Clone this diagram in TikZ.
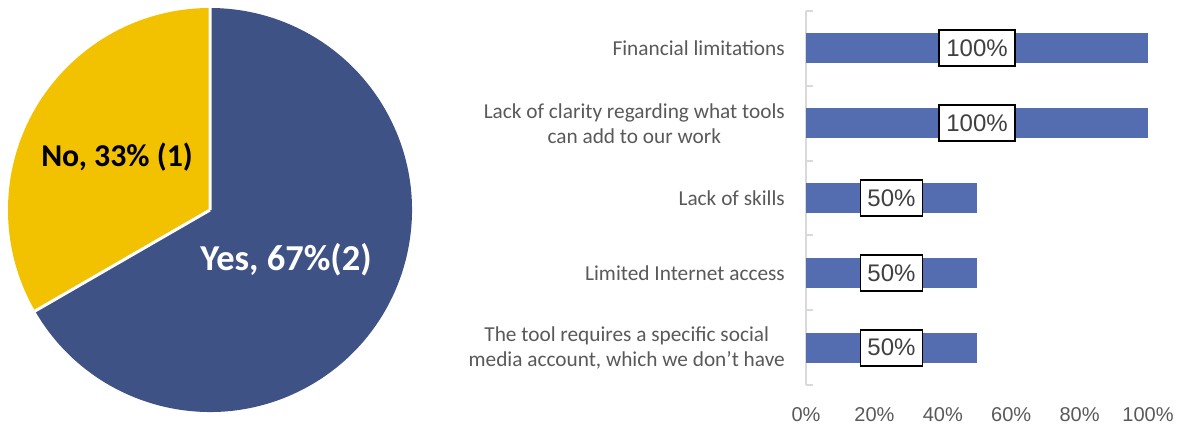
\documentclass[tikz,border=0pt]{standalone}
\usepackage{fontspec}
\setmainfont{Carlito}
\newfontfamily\numfont{Liberation Sans}
\definecolor{pieblue}{RGB}{63,82,133}
\definecolor{pieyellow}{RGB}{242,193,0}
\definecolor{barblue}{RGB}{83,109,176}
\definecolor{axisgray}{RGB}{217,217,217}
\definecolor{labelgray}{RGB}{89,89,89}
\definecolor{valgray}{RGB}{64,64,64}

\begin{document}
\begin{tikzpicture}[x=1pt, y=1pt,
    cat/.style = {anchor=east, align=center, text=labelgray, font=\fontsize{21.3}{25}\selectfont, inner sep=0pt},
    val/.style = {draw=black, line width=1.8pt, fill=white, text=valgray, font=\numfont\fontsize{24}{24}\selectfont, inner xsep=7pt, inner ysep=0pt, minimum height=36pt},
    tick/.style = {text=labelgray, font=\numfont\fontsize{20}{20}\selectfont},
    slice/.style = {font=\bfseries\fontsize{31.8}{32}\selectfont}]
    \useasboundingbox (0,0) rectangle (1186,429);

    % pie
    \coordinate (c) at (210,219);
    \fill[pieyellow] (c) -- ++(90:202) arc (90:210:202) -- cycle;
    \fill[pieblue] (c) -- ++(210:202) arc (210:450:202) -- cycle;
    \draw[white, line width=3pt] (c) -- ++(90:204) (c) -- ++(210:204);
    \node[slice] (no) at (117,272) {No, 33\% (1)};
    \node[slice, text=white, font=\bfseries\fontsize{36.5}{37}\selectfont] (yes) at (286,169) {Yes, 67\%(2)};

    % bars
    \draw[axisgray, line width=2pt] (806,418) -- (806,44);
    \foreach \k in {0,...,5}
        \draw[axisgray, line width=2pt] (806,418-74.8*\k) -- ++(7,0);
    \foreach \v/\y/\n in {100/380.6/fin, 100/305.8/clarity, 50/231/skills, 50/156.2/internet, 50/81.4/account} {
        \fill[barblue] (806,\y-15) rectangle ++(3.42*\v,30);
        \node[val] (v\n) at (806+1.71*\v,\y) {\v\%};
    }
    \node[cat] (fin) at (785,380.6) {Financial limitations};
    \node[cat] (clarity) at (785,305.8) {Lack of clarity regarding what tools\\can add to our work};
    \node[cat] (skills) at (785,231) {Lack of skills};
    \node[cat] (internet) at (785,156.2) {Limited Internet access};
    \node[cat] (account) at (785,81.4) {The tool requires a specific social\\media account, which we don’t have};

    \foreach \p in {0,20,...,100}
        \node[tick] (t\p) at (806+3.42*\p,14) {\p\%};
\end{tikzpicture}
\end{document}
